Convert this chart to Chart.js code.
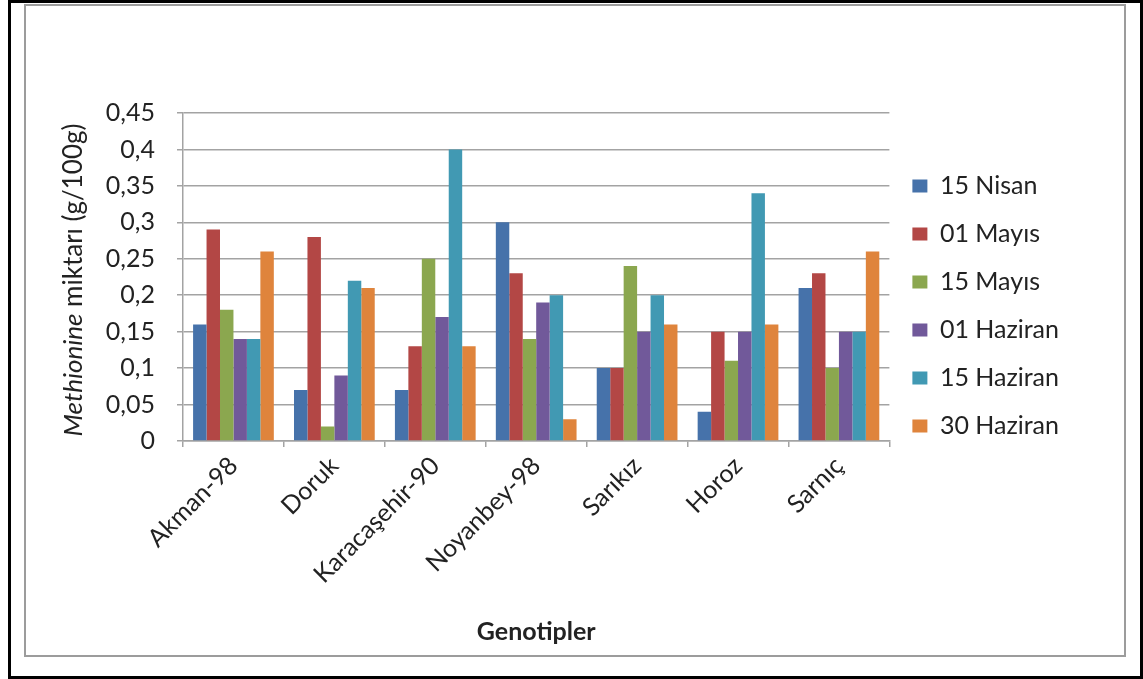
<!DOCTYPE html>
<html>
<head>
<meta charset="utf-8">
<script src="https://cdn.jsdelivr.net/npm/chart.js@4.4.0/dist/chart.umd.min.js"></script>
<style>
  html, body { margin: 0; padding: 0; background: #fff; }
  #wrap { position: relative; width: 1143px; height: 679px; overflow: hidden; }
  .outer { position: absolute; left: 8px; top: 0; width: 1135px; height: 679px; box-sizing: border-box; border: 3px solid #000; }
  .inner { position: absolute; left: 24px; top: 4px; width: 1102px; height: 653px; box-sizing: border-box; border: 2px solid #9c9c9c; }
  canvas { position: absolute; left: 0; top: 0; }
</style>
</head>
<body>
<div id="wrap">
  <div class="outer"></div>
  <div class="inner"></div>
  <canvas id="chart" width="1143" height="679"></canvas>
</div>
<script>
const genotypes = ['Akman-98', 'Doruk', 'Karacaşehir-90', 'Noyanbey-98', 'Sarıkız', 'Horoz', 'Sarnıç'];
const dates = ['15 Nisan', '01 Mayıs', '15 Mayıs', '01 Haziran', '15 Haziran', '30 Haziran'];

const nisan15   = [0.16, 0.07, 0.07, 0.30, 0.10, 0.04, 0.21];
const mayis01   = [0.29, 0.28, 0.13, 0.23, 0.10, 0.15, 0.23];
const mayis15   = [0.18, 0.02, 0.25, 0.14, 0.24, 0.11, 0.10];
const haziran01 = [0.14, 0.09, 0.17, 0.19, 0.15, 0.15, 0.15];
const haziran15 = [0.14, 0.22, 0.40, 0.20, 0.20, 0.34, 0.15];
const haziran30 = [0.26, 0.21, 0.13, 0.03, 0.16, 0.16, 0.26];

const seriesValues = [nisan15, mayis01, mayis15, haziran01, haziran15, haziran30];
const seriesColors = ['#4672aa', '#b34745', '#8ba74f', '#71599a', '#4199b3', '#df843c'];

const FONT = "Lato, 'Open Sans', sans-serif";
const GRID = '#a3a3a3';

// y axis title has an italic word in it, so it is drawn by hand
const yTitlePlugin = {
  id: 'yTitle',
  afterDraw(chart) {
    const ctx = chart.ctx;
    const first = 'Methionine';
    const rest = ' miktarı (g/100g)';
    ctx.save();
    ctx.translate(74, 280);
    ctx.rotate(-Math.PI / 2);
    ctx.fillStyle = '#222';
    ctx.textBaseline = 'middle';
    ctx.font = `italic 26px ${FONT}`;
    const w1 = ctx.measureText(first).width;
    ctx.font = `26px ${FONT}`;
    const w2 = ctx.measureText(rest).width;
    const x = -(w1 + w2) / 2;
    ctx.textAlign = 'left';
    ctx.font = `italic 26px ${FONT}`;
    ctx.fillText(first, x, 0);
    ctx.font = `26px ${FONT}`;
    ctx.fillText(rest, x + w1, 0);
    ctx.restore();
  }
};

new Chart(document.getElementById('chart').getContext('2d'), {
  type: 'bar',
  data: {
    labels: genotypes,
    datasets: dates.map((label, i) => ({
      label,
      data: seriesValues[i],
      backgroundColor: seriesColors[i],
      borderWidth: 0,
      categoryPercentage: 0.8,
      barPercentage: 1.0
    }))
  },
  options: {
    responsive: false,
    animation: false,
    layout: {
      padding: { left: 30, top: 113, right: 74, bottom: 30 }
    },
    plugins: {
      tooltip: { enabled: false },
      legend: {
        position: 'right',
        align: 'start',
        title: {
          display: true,
          text: '',
          font: { size: 10 },
          padding: { top: 25.5, bottom: 0 }
        },
        labels: {
          boxWidth: 15,
          boxHeight: 13,
          padding: 23,
          color: '#222',
          font: { family: FONT, size: 25 }
        }
      }
    },
    scales: {
      x: {
        grid: {
          drawOnChartArea: false,
          tickLength: 6,
          color: GRID,
          lineWidth: 1.5
        },
        border: { color: GRID, width: 1.5 },
        ticks: {
          minRotation: 45,
          maxRotation: 45,
          padding: 4,
          color: '#222',
          font: { family: FONT, size: 25 }
        },
        title: {
          display: true,
          text: 'Genotipler',
          color: '#222',
          padding: { top: 0, bottom: 2 },
          font: { family: FONT, size: 25, weight: 'bold' }
        },
        afterFit(scale) {
          scale.height = 208;
        }
      },
      y: {
        min: 0,
        max: 0.45,
        ticks: {
          stepSize: 0.05,
          padding: 22,
          color: '#222',
          font: { family: FONT, size: 25 },
          callback(value) {
            return Number(value.toFixed(2)).toString().replace('.', ',');
          }
        },
        grid: {
          tickLength: 6,
          color: GRID,
          lineWidth: 1.5
        },
        border: { color: GRID, width: 1.5 },
        afterFit(scale) {
          scale.width = 153;
        }
      }
    }
  },
  plugins: [yTitlePlugin]
});
</script>
</body>
</html>
